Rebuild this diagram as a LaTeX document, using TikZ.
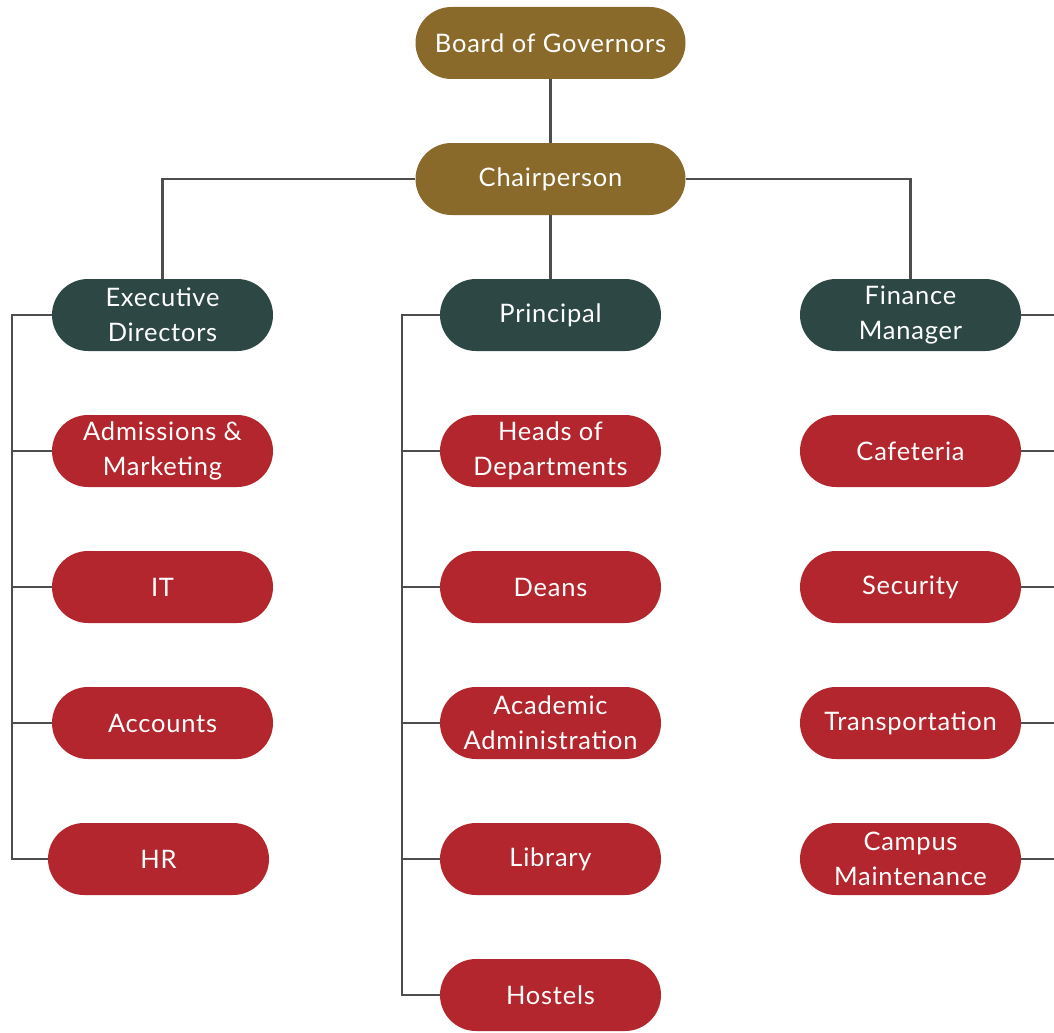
\documentclass[tikz,border=0pt]{standalone}
\usepackage{fontspec}
\setmainfont{Lato}[LetterSpace=3]
\usetikzlibrary{positioning}
\definecolor{gold}{HTML}{8A6A2B}
\definecolor{pine}{HTML}{2D4744}
\definecolor{crimson}{HTML}{B3262D}
\definecolor{wire}{HTML}{4D4D4D}
\tikzset{
  pill/.style={rectangle, rounded corners=0.72cm, minimum width=4.42cm, minimum height=1.44cm,
    inner sep=0pt, text=white, align=center, font=\fontsize{14.5}{19.9}\selectfont},
  govbox/.style={pill, fill=gold, minimum width=5.4cm},
  mgrbox/.style={pill, fill=pine},
  deptbox/.style={pill, fill=crimson},
  link/.style={draw=wire, line width=1.3pt},
}
\begin{document}
\begin{tikzpicture}[node distance=2.72cm, on grid]
	\useasboundingbox (0,0) rectangle (21.08,-20.64);
	\node[govbox] (board) at (11.01,-0.86) {Board of Governors};
	\node[govbox] (chair) [below=of board] {Chairperson};
	\node[mgrbox] (exec) at (3.25,-6.30) {Executive\\Directors};
	\node[mgrbox] (principal) [below=of chair] {Principal};
	\node[mgrbox] (finance) at (18.21,-6.30) {Finance\\Manager};

	\node[deptbox] (adm) [below=of exec] {Admissions \&\\Marketing};
	\node[deptbox] (it) [below=of adm] {IT};
	\node[deptbox] (acc) [below=of it] {Accounts};
	\node[deptbox] (hr) [below=of acc, xshift=-0.08cm] {HR};

	\node[deptbox] (hod) [below=of principal] {Heads of\\Departments};
	\node[deptbox] (deans) [below=of hod] {Deans};
	\node[deptbox] (acad) [below=of deans] {Academic\\Administration};
	\node[deptbox] (lib) [below=of acad] {Library};
	\node[deptbox] (hostel) [below=of lib] {Hostels};

	\node[deptbox] (cafe) [below=of finance] {Cafeteria};
	\node[deptbox] (sec) [below=of cafe] {Security};
	\node[deptbox] (trans) [below=of sec] {Transportation};
	\node[deptbox] (maint) [below=of trans] {Campus\\Maintenance};

	\coordinate (ltrunk) at (0.24,0);
	\coordinate (mtrunk) at (8.04,0);
	\coordinate (redge) at (21.08,0);

	\draw[link] (board) -- (chair);
	\draw[link] (chair.west) -| (exec.north);
	\draw[link] (chair.east) -| (finance.north);
	\draw[link] (chair) -- (principal);

	\draw[link] (exec.west) -- (exec.west -| ltrunk) |- (hr.west);
	\foreach \n in {adm,it,acc}
		\draw[link] (\n.west) -- (\n.west -| ltrunk);
	\draw[link] (principal.west) -- (principal.west -| mtrunk) |- (hostel.west);
	\foreach \n in {hod,deans,acad,lib}
		\draw[link] (\n.west) -- (\n.west -| mtrunk);
	\foreach \n in {finance,cafe,sec,trans,maint}
		\draw[link] (\n.east) -- (\n.east -| redge);
\end{tikzpicture}
\end{document}
